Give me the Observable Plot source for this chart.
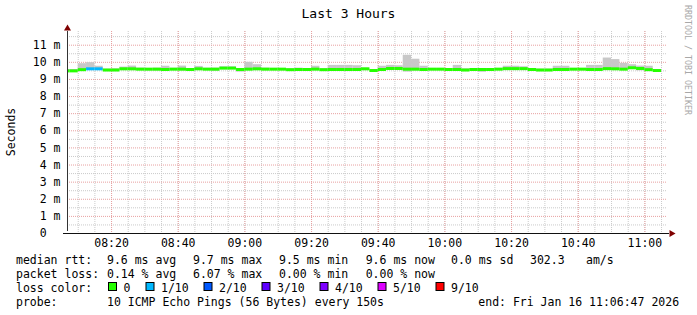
<!DOCTYPE html>
<html><head><meta charset="utf-8">
<script src="https://cdn.jsdelivr.net/npm/d3@7"></script>
<script src="https://cdn.jsdelivr.net/npm/@observablehq/plot@0.6"></script>
<style>
body{margin:0;background:#fff;}
#chart{position:relative;width:697px;height:315px;overflow:hidden;background:#fff;}
</style></head><body><div id="chart"></div>
<script>
// ---- data ----
const titleText = "Last 3 Hours";
const yLabelText = "Seconds";
const watermark = "RRDTOOL / TOBI OETIKER";
const startTime = "2026-01-16T08:06:47Z";
const endTime = "2026-01-16T11:06:47Z";
const firstStep = "2026-01-16T08:05:00Z";
const stepSeconds = 150;

const median = [9.50,9.50,9.57,9.62,9.62,9.55,9.55,9.62,9.62,9.60,
 9.60,9.60,9.58,9.60,9.60,9.58,9.62,9.60,9.60,9.66,
 9.66,9.58,9.60,9.62,9.60,9.60,9.60,9.57,9.58,9.58,
 9.60,9.57,9.58,9.58,9.58,9.58,9.62,9.52,9.58,9.64,
 9.64,9.60,9.60,9.58,9.60,9.60,9.58,9.58,9.55,9.58,
 9.58,9.58,9.60,9.63,9.63,9.63,9.58,9.55,9.55,9.58,
 9.58,9.60,9.60,9.58,9.58,9.63,9.62,9.60,9.68,9.64,
 9.57,9.52];
const smokeHigh = [9.56,9.58,9.92,9.98,9.77,9.60,9.62,9.72,9.78,9.66,
 9.64,9.66,9.77,9.65,9.78,9.63,9.76,9.65,9.66,9.74,
 9.74,9.62,10.00,9.86,9.66,9.64,9.64,9.62,9.66,9.64,
 9.77,9.62,9.82,9.82,9.82,9.80,9.66,9.58,9.77,9.82,
 9.80,10.41,10.18,9.77,9.64,9.64,9.62,9.82,9.62,9.64,
 9.64,9.62,9.64,9.77,9.77,9.74,9.62,9.60,9.60,9.77,
 9.77,9.64,9.64,9.82,9.82,10.25,10.16,9.94,9.86,9.78,
 9.77,9.58];
const smokeLow = [9.45,9.46,9.52,9.55,9.56,9.48,9.50,9.56,9.55,9.52,
 9.50,9.50,9.48,9.52,9.50,9.50,9.55,9.55,9.48,9.58,
 9.58,9.43,9.55,9.56,9.55,9.56,9.55,9.50,9.48,9.48,
 9.55,9.52,9.50,9.50,9.46,9.48,9.58,9.48,9.54,9.56,
 9.56,9.43,9.50,9.52,9.52,9.52,9.55,9.52,9.50,9.52,
 9.42,9.52,9.55,9.55,9.55,9.56,9.52,9.52,9.52,9.52,
 9.52,9.55,9.55,9.48,9.50,9.52,9.55,9.52,9.58,9.50,
 9.52,9.44];
const lossIndex = [0,0,0,1,1,0,0,0,0,0, 0,0,0,0,0,0,0,0,0,0,
 0,0,0,0,0,0,0,0,0,0, 0,0,0,0,0,0,0,0,0,0,
 0,0,0,0,0,0,0,0,0,0, 0,0,0,0,0,0,0,0,0,0,
 0,0,0,0,0,0,0,0,0,0, 0,0];

const lossLabels = ["0","1/10","2/10","3/10","4/10","5/10","9/10"];
const lossColors = ["#26ff00","#00b8ff","#0059ff","#5e00ff","#7e00ff","#dd00ff","#ff0000"];

const yTicks = [0,1,2,3,4,5,6,7,8,9,10,11];
const yMinor = [0.5,1.5,2.5,3.5,4.5,5.5,6.5,7.5,8.5,9.5,10.5,11.5];
const xMajorLabels = ["08:20","08:40","09:00","09:20","09:40","10:00","10:20","10:40","11:00"];
const yMax = 11.8;

const rttRow = ["median rtt:","9.6 ms avg","9.7 ms max","9.5 ms min","9.6 ms now","0.0 ms sd","302.3","am/s"];
const lossRow = ["packet loss:","0.14 % avg","6.07 % max","0.00 % min","0.00 % now"];
const lossColorLabel = "loss color:";
const probeRow = ["probe:","10 ICMP Echo Pings (56 Bytes) every 150s"];
const endRow = "end: Fri Jan 16 11:06:47 2026";

// ---- build ----
const start = new Date(startTime), end = new Date(endTime);
const t0 = new Date(firstStep);
const steps = median.map((m, i) => {
  const a = new Date(+t0 + i * stepSeconds * 1000);
  const b = new Date(+a + stepSeconds * 1000);
  return {x1: a < start ? start : a, x2: b > end ? end : b, med: m,
          lo: smokeLow[i], hi: smokeHigh[i], color: lossColors[lossIndex[i]]};
});
const day = "2026-01-16T";
const xMajor = xMajorLabels.map(s => new Date(day + s + ":00Z"));
const xMinor = d3.utcMinute.every(5).range(start, end);

const majorColor = "#e8a0a0", minorColor = "#cacaca";
const plot = Plot.plot({
  width: 697, height: 315,
  marginLeft: 67, marginRight: 30, marginTop: 31, marginBottom: 82,
  style: {fontFamily: "DejaVu Sans Mono", fontSize: "11.5px", color: "#000", background: "#fff", overflow: "visible"},
  x: {type: "utc", domain: [start, end]},
  y: {domain: [0, yMax]},
  color: {type: "identity"},
  marks: [
    Plot.ruleY(yMinor, {stroke: minorColor, strokeDasharray: "1,1"}),
    Plot.ruleX(xMinor, {stroke: minorColor, strokeDasharray: "1,1"}),
    Plot.ruleY(yTicks.filter(d => d > 0), {stroke: majorColor, strokeDasharray: "1,1"}),
    Plot.ruleX(xMajor, {stroke: majorColor, strokeDasharray: "1,1"}),
    Plot.rect(steps, {x1: "x1", x2: "x2", y1: "lo", y2: "hi", fill: "#c8c8c8"}),
    Plot.ruleY(steps, {x1: "x1", x2: "x2", y: "med", stroke: "color", strokeWidth: 3}),
    Plot.axisY({ticks: yTicks, tickSize: 0, tickPadding: 7, label: null,
      tickFormat: d => d === 0 ? "0\u00a0\u00a0" : d + " m"}),
    Plot.axisX({ticks: xMajor, tickSize: 0, tickPadding: 5, label: null,
      tickFormat: d3.utcFormat("%H:%M")}),
    Plot.ruleX([start], {y1: 0, y2: yMax, stroke: "#333", insetTop: -2}),
    Plot.ruleY([0], {x1: start, x2: end, stroke: "#111", insetLeft: -4, insetRight: -2}),
    Plot.dot([start], {x: d => d, y: () => yMax, symbol: "triangle", r: 2.6, fill: "#7f0000", stroke: null, dy: -3}),
    Plot.dot([end], {x: d => d, y: () => 0, symbol: "triangle", r: 2.6, fill: "#7f0000", stroke: null, rotate: 90, dx: 4})
  ]
});
document.getElementById("chart").appendChild(plot);

// ---- texts around the plot ----
const svg = d3.select(plot);
const ff = "DejaVu Sans Mono";
function txt(x, y, s, o = {}) {
  const t = svg.append("text").attr("x", x).attr("y", y).text(s)
    .attr("font-family", ff).attr("font-size", o.size || "11.5px")
    .attr("fill", o.fill || "#000").attr("text-anchor", o.anchor || "start")
    .style("white-space", "pre");
  if (o.rotate) t.attr("transform", `rotate(${o.rotate},${x},${y})`);
  return t;
}
txt(348.5, 18, titleText, {size: "13px", anchor: "middle"});
txt(15, 132, yLabelText, {rotate: -90, anchor: "middle"});
txt(684.5, 5, watermark, {rotate: 90, size: "8.3px", fill: "#a8a8a8"});

const rows = [263.5, 277.5, 291.5, 305.5];
const cols = [16, 107, 193, 279, 365.7, 451, 530, 586];
rttRow.forEach((s, i) => txt(cols[i], rows[0], s));
lossRow.forEach((s, i) => txt(cols[i], rows[1], s));
txt(cols[0], rows[2], lossColorLabel);
const swX = [108.5, 146, 204, 262, 320, 378, 436];
lossLabels.forEach((s, i) => {
  svg.append("rect").attr("x", swX[i]).attr("y", 282.5).attr("width", 8).attr("height", 8)
    .attr("fill", lossColors[i]).attr("stroke", "#000").attr("stroke-width", 1);
  txt(swX[i] + 15, rows[2], s);
});
txt(cols[0], rows[3], probeRow[0]);
txt(cols[1], rows[3], probeRow[1]);
txt(478.3, rows[3], endRow);
</script></body></html>
